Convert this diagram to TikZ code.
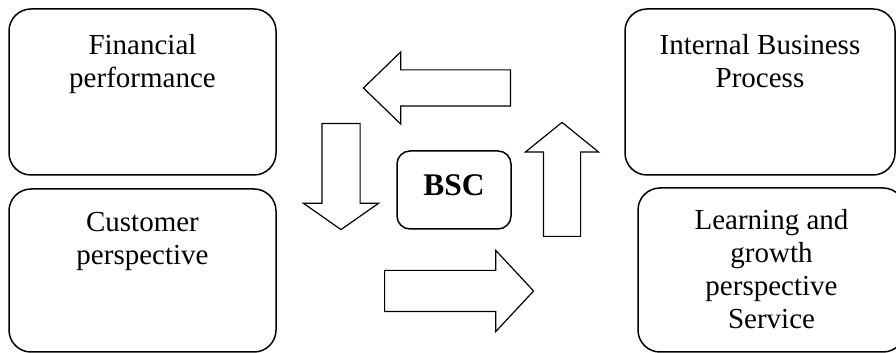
\documentclass[tikz,border=0pt]{standalone}
\usepackage{fontspec}
\setmainfont{Liberation Serif}
\usetikzlibrary{shapes.arrows,positioning}

\begin{document}
\begin{tikzpicture}[x=1pt, y=1pt,
persp/.style={draw, rounded corners=22pt, line width=1.5pt,
minimum width=267pt, minimum height=166pt, inner sep=0pt},
ptext/.style={align=center, inner sep=0pt, font=\fontsize{29}{33}\selectfont},
core/.style={draw, rounded corners=13pt, line width=1.5pt, minimum width=114pt,
minimum height=78pt, text depth=9pt, font=\fontsize{31.5}{36}\selectfont\bfseries},
blockarrow/.style={draw, single arrow, line width=1.2pt, inner sep=0pt, text depth=0pt, anchor=tail}
]
\useasboundingbox (0,0) rectangle (896,353);
\clip (0,0) rectangle (896,353);

% four perspectives
\node[persp] (fin) at (142.5,261) {};
\node[persp, minimum width=270pt] (ibp) at (760,261) {};
\node[persp, minimum height=163pt] (cus) at (142.5,82.5) {};
\node[persp, minimum height=164pt] (lgp) at (771.5,83) {};

\node[ptext, below=26pt of fin.north] (fintxt) {Financial\\performance};
\node[ptext, below=26pt of ibp.north] (ibptxt) {Internal Business\\Process};
\node[ptext, below=24pt of cus.north] (custxt) {Customer\\perspective};
\node[ptext, below=22pt of lgp.north] (lgptxt) {Learning and\\growth\\perspective\\Service};

\node[core] (bsc) at (454,163) {BSC};

% block arrows round the centre, placed by their tails
\node[blockarrow, rotate=180, minimum height=147pt, text height=35pt,
single arrow head extend=18pt, single arrow tip angle=88] (toleft) at (511,265) {};
\node[blockarrow, rotate=270, minimum height=106pt, text height=37pt,
single arrow head extend=18.5pt, single arrow tip angle=110] (todown) at (341,230) {};
\node[blockarrow, rotate=90, minimum height=114pt, text height=36pt,
single arrow head extend=18pt, single arrow tip angle=102] (toup) at (562,116) {};
\node[blockarrow, minimum height=149pt, text height=40pt,
single arrow head extend=20pt, single arrow tip angle=94] (toright) at (384,62) {};

\end{tikzpicture}
\end{document}
